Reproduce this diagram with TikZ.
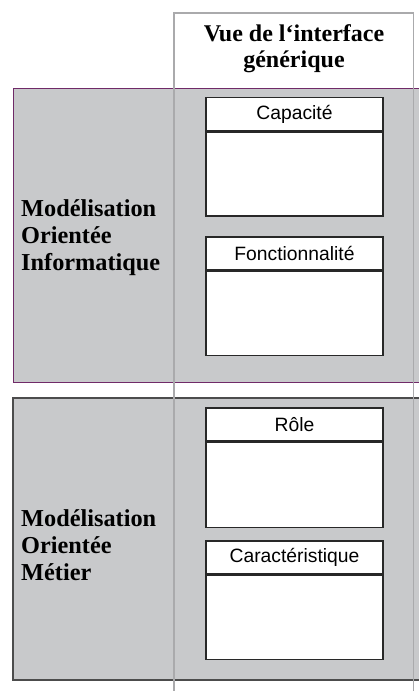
\documentclass[tikz,border=0pt]{standalone}
\usepackage{fontspec}
\setmainfont{Liberation Serif}
\setsansfont{Liberation Sans}
\usetikzlibrary{positioning}
\definecolor{fond}{RGB}{200,201,203}
\definecolor{violet}{RGB}{112,42,104}
\definecolor{grille}{RGB}{170,170,172}
\definecolor{trait}{RGB}{40,40,40}
\begin{document}
\begin{tikzpicture}[x=1pt,y=-1pt,
  titre/.style={font=\bfseries\fontsize{24}{26}\selectfont,align=center,inner sep=0pt},
  groupe/.style={font=\bfseries\fontsize{24.3}{27}\selectfont,align=left,anchor=west,inner sep=0pt},
  entete/.style={draw=trait,line width=1.6pt,fill=white,minimum width=177pt,minimum height=33pt,
    inner sep=0pt,font=\sffamily\fontsize{19.3}{22}\selectfont},
  corps/.style={draw=trait,line width=1.6pt,fill=white,minimum width=177pt,minimum height=84pt,inner sep=0pt}]
\useasboundingbox (0,0) rectangle (418,691);
% zones grises
\filldraw[fill=fond,draw=violet,line width=1pt](13,88) rectangle (440,382);
\filldraw[fill=fond,draw=black!70,line width=1.4pt](13,398) rectangle (440,680);
% colonne de la vue
\draw[grille,line width=1.2pt](174,691)--(174,13)--(413.5,13)--(413.5,691);
\node[titre] (vue) at (294,49){Vue de l‘interface\\générique};
\node[groupe] (info) at (21,238){Modélisation\\Orientée\\Informatique};
\node[groupe] (metier) at (21,545){Modélisation\\Orientée\\Métier};
% interfaces
\node[entete] (cap) at (294.5,114){Capacité};
\node[corps,below=0pt of cap] (capb){};
\node[entete] (fct) at (294.5,253.5){Fonctionnalité};
\node[corps,below=0pt of fct] (fctb){};
\node[entete] (role) at (294.5,424.5){Rôle};
\node[corps,minimum height=85pt,below=0pt of role] (roleb){};
\node[entete] (car) at (294.5,557.5){Caractéristique};
\node[corps,below=0pt of car] (carb){};
\end{tikzpicture}
\end{document}
